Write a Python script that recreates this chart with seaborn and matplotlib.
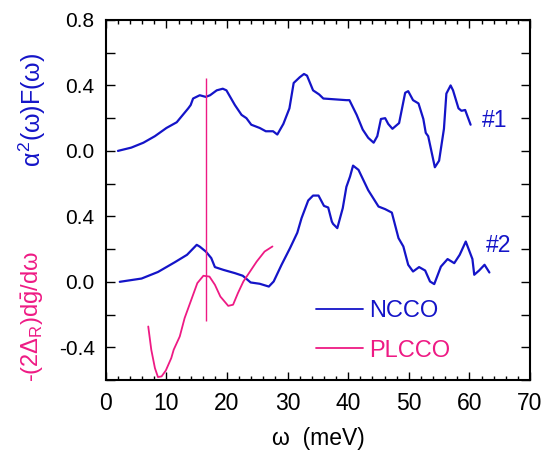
import matplotlib
matplotlib.use("Agg")
import matplotlib.pyplot as plt
import matplotlib.transforms as mtransforms
from matplotlib.lines import Line2D
import pandas as pd
import seaborn as sns

# NCCO sample #1 (drawn shifted up by 0.8)
w1 = [2.0, 4.2, 6.2, 8.1, 10.0, 11.7, 13.6, 14.0, 14.4, 15.5, 16.5, 17.2, 18.3, 19.3, 19.9,
      21.3, 22.4, 23.2, 24.0, 25.4, 26.4, 27.6, 28.3, 29.3, 30.3, 31.0, 32.0, 32.7, 33.2,
      34.2, 35.2, 35.9, 39.7, 40.2, 41.4, 42.4, 43.3, 44.2, 44.8, 45.4, 46.1, 46.6, 47.3,
      48.4, 49.4, 49.9, 50.7, 51.6, 52.4, 52.8, 53.2, 54.3, 55.0, 55.8, 56.2, 56.9, 57.3,
      58.2, 58.7, 59.3, 60.2]
a2f1 = [0.0, 0.02, 0.05, 0.09, 0.14, 0.175, 0.26, 0.28, 0.32, 0.34, 0.33, 0.34, 0.37, 0.38, 0.37,
        0.28, 0.22, 0.20, 0.16, 0.14, 0.12, 0.12, 0.10, 0.165, 0.26, 0.415, 0.45, 0.47, 0.46,
        0.37, 0.345, 0.32, 0.31, 0.31, 0.22, 0.13, 0.08, 0.05, 0.09, 0.195, 0.20, 0.165, 0.135,
        0.17, 0.355, 0.365, 0.31, 0.29, 0.195, 0.11, 0.09, -0.10, -0.06, 0.135, 0.35, 0.40, 0.37,
        0.26, 0.245, 0.25, 0.16]

# NCCO sample #2
w2 = [2.3, 5.9, 8.6, 11.4, 13.4, 15.0, 15.5, 16.5, 17.4, 18.0, 19.4, 21.3, 22.6, 23.9, 25.4,
      26.9, 27.7, 29.0, 30.4, 31.6, 32.3, 33.4, 34.2, 35.1, 36.0, 36.7, 37.3, 37.5, 38.2,
      39.1, 39.7, 40.3, 40.8, 41.7, 43.3, 45.0, 46.1, 47.2, 48.3, 49.1, 49.9, 50.7, 51.7,
      52.7, 53.5, 54.2, 55.3, 56.4, 57.5, 58.4, 59.4, 60.5, 60.8, 61.6, 62.5, 63.3]
a2f2 = [0.0, 0.02, 0.06, 0.12, 0.165, 0.226, 0.215, 0.185, 0.145, 0.09, 0.073, 0.053, 0.037, -0.004, -0.012,
        -0.029, 0.002, 0.104, 0.206, 0.30, 0.389, 0.497, 0.527, 0.527, 0.464, 0.454, 0.368, 0.354, 0.328,
        0.45, 0.58, 0.643, 0.71, 0.684, 0.56, 0.46, 0.444, 0.423, 0.267, 0.216, 0.104, 0.063, 0.09,
        0.069, 0.002, -0.014, 0.093, 0.139, 0.114, 0.165, 0.246, 0.139, 0.043, 0.069, 0.104, 0.057]

# PLCCO -(2 Delta_R) dg/dw
w3 = [7.0, 7.5, 8.1, 8.6, 9.2, 9.9, 10.8, 11.2, 12.2, 13.0, 14.1, 15.1, 16.1, 17.1, 18.0,
      18.9, 20.2, 21.0, 21.8, 22.7, 23.8, 24.9, 26.2, 27.5]
dg = [-0.273, -0.415, -0.527, -0.582, -0.578, -0.542, -0.466, -0.415, -0.334, -0.222, -0.11, -0.008,
      0.037, 0.032, -0.018, -0.09, -0.147, -0.14, -0.069, 0.002, 0.063, 0.124, 0.185, 0.216]

offset1 = 0.8
vline_w = 16.5
vline_y = [-0.24, 1.245]

ytick_pos = [-0.4, 0.0, 0.4, 0.8, 1.2, 1.6]
ytick_lab = ["-0.4", "0.0", "0.4", "0.0", "0.4", "0.8"]

blue = "#1414C8"
pink = "#EE1A84"

sns.set_style("ticks")
plt.rcParams["font.family"] = ["Liberation Sans", "DejaVu Sans"]
plt.rcParams["mathtext.fontset"] = "custom"
plt.rcParams["mathtext.rm"] = "Liberation Sans"
plt.rcParams["mathtext.it"] = "Liberation Sans"
plt.rcParams["mathtext.sf"] = "Liberation Sans"
plt.rcParams["text.color"] = "black"
plt.rcParams["axes.labelcolor"] = "black"
plt.rcParams["xtick.color"] = "black"
plt.rcParams["ytick.color"] = "black"
plt.rcParams["axes.edgecolor"] = "black"

fig = plt.figure(figsize=(5.57, 4.54), dpi=100)
ax = fig.add_axes([0.190, 0.163, 0.7615, 0.793])

df1 = pd.DataFrame({"w": w1, "y": [v + offset1 for v in a2f1]})
df2 = pd.DataFrame({"w": w2, "y": a2f2})
df3 = pd.DataFrame({"w": w3, "y": dg})
sns.lineplot(data=df1, x="w", y="y", color=blue, lw=1.6, sort=False, ax=ax)
sns.lineplot(data=df2, x="w", y="y", color=blue, lw=1.6, sort=False, ax=ax)
sns.lineplot(data=df3, x="w", y="y", color=pink, lw=1.3, sort=False, ax=ax)
ax.vlines(vline_w, vline_y[0], vline_y[1], color=pink, lw=1.0)

ax.set_xlim(0, 70)
ax.set_ylim(-0.6, 1.6)
ax.set_xticks(range(0, 71, 10))
ax.set_xticks(range(0, 71, 2), minor=True)
yt = [round(-0.6 + 0.2 * i, 1) for i in range(12)]
ax.set_yticks(yt)
ax.set_yticklabels([ytick_lab[ytick_pos.index(v)] if v in ytick_pos else "" for v in yt])
ax.tick_params(axis="x", which="major", direction="in", length=6, width=1, top=True, labelsize=16.5, pad=9)
ax.tick_params(axis="x", which="minor", direction="in", length=3, width=1, top=True)
ax.tick_params(axis="y", which="major", direction="in", length=6.5, width=1, right=True, labelsize=15, pad=8)
for s in ax.spines.values():
    s.set_linewidth(1.5)

ax.set_xlabel("ω  (meV)", fontsize=16.5, labelpad=8)
ax.set_ylabel("")

trans = mtransforms.blended_transform_factory(fig.transFigure, ax.transData)
ax.text(0.058, 1.05, r"$\alpha^2(\omega)F(\omega)$", color=blue, fontsize=18,
        rotation=90, ha="center", va="center", transform=trans)
ax.text(0.058, -0.21, r"-(2$\Delta_{\rm R}$)d$\bar{\rm g}$/d$\omega$", color=pink, fontsize=17,
        rotation=90, ha="center", va="center", transform=trans)

ax.text(64.2, 0.985, "#1", color=blue, fontsize=16.5, ha="center", va="center")
ax.text(64.8, 0.22, "#2", color=blue, fontsize=16.5, ha="center", va="center")

handles = [Line2D([], [], color=blue, lw=1.3), Line2D([], [], color=pink, lw=1.3)]
leg = ax.legend(handles, ["NCCO", "PLCCO"], loc="center left", bbox_to_anchor=(0.495, 0.137),
                frameon=False, fontsize=17, handlelength=2.0, handletextpad=0.25,
                labelspacing=0.75, borderpad=0, borderaxespad=0)
for t, c in zip(leg.get_texts(), [blue, pink]):
    t.set_color(c)

fig.savefig("out.png", dpi=100)
